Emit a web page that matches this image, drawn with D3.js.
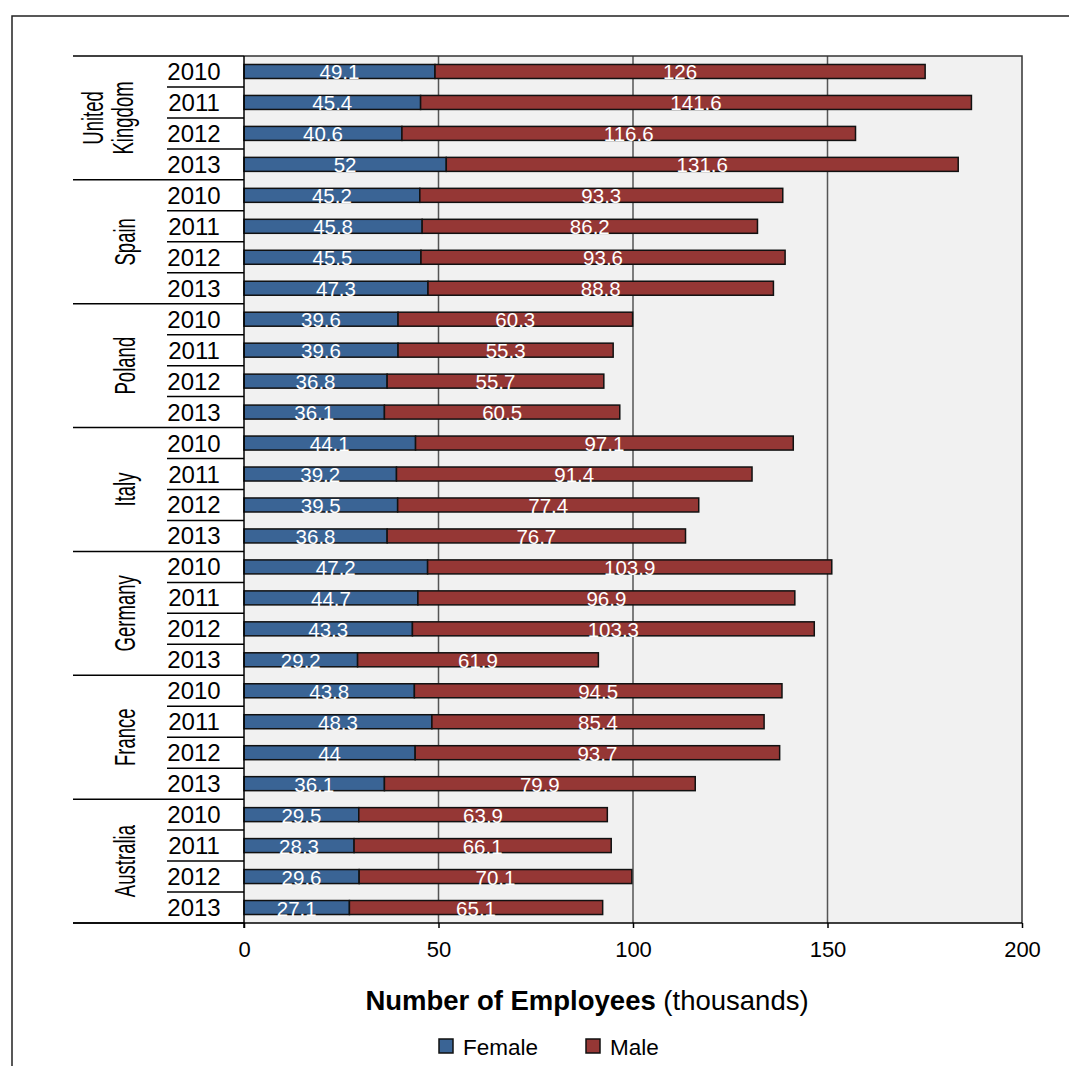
<!DOCTYPE html>
<html>
<head>
<meta charset="utf-8">
<script src="https://cdn.jsdelivr.net/npm/d3@7/dist/d3.min.js"></script>
<style>
  html, body { margin: 0; padding: 0; background: #fff; }
  svg { display: block; font-family: "Liberation Sans", Arial, sans-serif; }
</style>
</head>
<body>
<svg id="chart" width="1069" height="1066"></svg>
<script>
// Employees by country and year, in thousands
const countries = ["United Kingdom", "Spain", "Poland", "Italy", "Germany", "France", "Australia"];
const years = ["2010", "2011", "2012", "2013"];
const female = [
  [49.1, 45.4, 40.6, 52],
  [45.2, 45.8, 45.5, 47.3],
  [39.6, 39.6, 36.8, 36.1],
  [44.1, 39.2, 39.5, 36.8],
  [47.2, 44.7, 43.3, 29.2],
  [43.8, 48.3, 44, 36.1],
  [29.5, 28.3, 29.6, 27.1]
];
const male = [
  [126, 141.6, 116.6, 131.6],
  [93.3, 86.2, 93.6, 88.8],
  [60.3, 55.3, 55.7, 60.5],
  [97.1, 91.4, 77.4, 76.7],
  [103.9, 96.9, 103.3, 61.9],
  [94.5, 85.4, 93.7, 79.9],
  [63.9, 66.1, 70.1, 65.1]
];
const xTicks = [0, 50, 100, 150, 200];
const seriesNames = ["Female", "Male"];
const seriesColors = ["#3a6495", "#953735"];

// Flatten into one row per country/year
const rows = [];
countries.forEach((c, ci) => {
  years.forEach((y, yi) => {
    rows.push({ key: c + "|" + y, country: c, year: y, ci, yi, female: female[ci][yi], male: male[ci][yi] });
  });
});

const svg = d3.select("#chart");
const plot = { left: 244, right: 1022, top: 56, bottom: 923 };
const catLeft = 73, yearLeft = 167;

const x = d3.scaleLinear().domain([0, 200]).range([plot.left, plot.right]);
const y = d3.scaleBand().domain(rows.map(r => r.key)).range([plot.top, plot.bottom]).padding(0);
const barH = 14;

// outer frame
svg.append("rect")
  .attr("x", 12).attr("y", 16).attr("width", 1100).attr("height", 1100)
  .attr("fill", "none").attr("stroke", "#222").attr("stroke-width", 1.5);

// plot background
svg.append("rect")
  .attr("x", plot.left).attr("y", plot.top)
  .attr("width", plot.right - plot.left).attr("height", plot.bottom - plot.top)
  .attr("fill", "#f1f1f1");

// vertical gridlines
svg.append("g").selectAll("line")
  .data(xTicks.filter(t => t > 0 && t < 200))
  .join("line")
  .attr("x1", d => x(d)).attr("x2", d => x(d))
  .attr("y1", plot.top).attr("y2", plot.bottom)
  .attr("stroke", "#555").attr("stroke-width", 1.5);

// plot border (top & right)
svg.append("path")
  .attr("d", `M${plot.left},${plot.top}H${plot.right}V${plot.bottom}`)
  .attr("fill", "none").attr("stroke", "#333").attr("stroke-width", 1.5);

// stacked bars
const barG = svg.append("g");
rows.forEach(r => {
  const cy = y(r.key) + y.bandwidth() / 2;
  const segs = [
    { v0: 0, v1: r.female, val: r.female, color: seriesColors[0] },
    { v0: r.female, v1: r.female + r.male, val: r.male, color: seriesColors[1] }
  ];
  segs.forEach(s => {
    barG.append("rect")
      .attr("x", x(s.v0)).attr("y", cy - barH / 2)
      .attr("width", x(s.v1) - x(s.v0)).attr("height", barH)
      .attr("fill", s.color).attr("stroke", "#111").attr("stroke-width", 1.5);
  });
  segs.forEach(s => {
    barG.append("text")
      .attr("x", (x(s.v0) + x(s.v1)) / 2).attr("y", cy + 8)
      .attr("text-anchor", "middle")
      .attr("fill", "#fff").attr("font-size", 20.5)
      .text(s.val);
  });
});

// category axis: year labels and separators
const catG = svg.append("g");
rows.forEach(r => {
  const cy = y(r.key) + y.bandwidth() / 2;
  catG.append("text")
    .attr("x", yearLeft + 27).attr("y", cy + 8.5)
    .attr("text-anchor", "middle").attr("font-size", 24).attr("fill", "#000")
    .text(r.year);
});
// separators between rows
d3.range(0, rows.length + 1).forEach(i => {
  const yy = plot.top + i * y.step();
  const isGroup = i % years.length === 0;
  catG.append("line")
    .attr("x1", isGroup ? catLeft : yearLeft).attr("x2", plot.left)
    .attr("y1", yy).attr("y2", yy)
    .attr("stroke", "#000").attr("stroke-width", 1.5);
});

// country labels, rotated
countries.forEach((c, ci) => {
  const cy = plot.top + (ci * years.length + years.length / 2) * y.step();
  const lines = c === "United Kingdom" ? ["United", "Kingdom"] : [c];
  const baseX = lines.length === 1 ? [135] : [103, 133];
  lines.forEach((t, li) => {
    catG.append("text")
      .attr("transform", `translate(${baseX[li]},${cy}) rotate(-90) scale(0.64,1)`)
      .attr("text-anchor", "middle").attr("font-size", 29).attr("fill", "#000")
      .text(t);
  });
});

// left axis line
svg.append("line")
  .attr("x1", plot.left).attr("x2", plot.left)
  .attr("y1", plot.top).attr("y2", plot.bottom + 5)
  .attr("stroke", "#000").attr("stroke-width", 1.5);

// bottom axis
const xAxis = d3.axisBottom(x).tickValues(xTicks).tickSize(5).tickPadding(13).tickSizeOuter(0);
const axG = svg.append("g").attr("transform", `translate(0,${plot.bottom})`).call(xAxis);
axG.select(".domain").remove();
axG.selectAll(".tick line").attr("stroke", "#000").attr("stroke-width", 1.5);
axG.selectAll(".tick text")
  .attr("font-size", 22).attr("fill", "#000")
  .attr("font-family", "Liberation Sans, Arial, sans-serif");
svg.append("line")
  .attr("x1", catLeft).attr("x2", plot.right)
  .attr("y1", plot.bottom).attr("y2", plot.bottom)
  .attr("stroke", "#000").attr("stroke-width", 1.5);

// axis title
const title = svg.append("text")
  .attr("x", 587).attr("y", 1010)
  .attr("text-anchor", "middle").attr("font-size", 27.5).attr("fill", "#000");
title.append("tspan").attr("font-weight", "bold").text("Number of Employees");
title.append("tspan").text(" (thousands)");

// legend
const legendItems = [{ name: seriesNames[0], color: seriesColors[0], x: 439 }, { name: seriesNames[1], color: seriesColors[1], x: 586 }];
const lg = svg.append("g");
legendItems.forEach(it => {
  lg.append("rect")
    .attr("x", it.x).attr("y", 1039).attr("width", 14).attr("height", 14)
    .attr("fill", it.color).attr("stroke", "#111").attr("stroke-width", 1.5);
  lg.append("text")
    .attr("x", it.x + 24).attr("y", 1055)
    .attr("font-size", 22.5).attr("fill", "#000")
    .text(it.name);
});
</script>
</body>
</html>
